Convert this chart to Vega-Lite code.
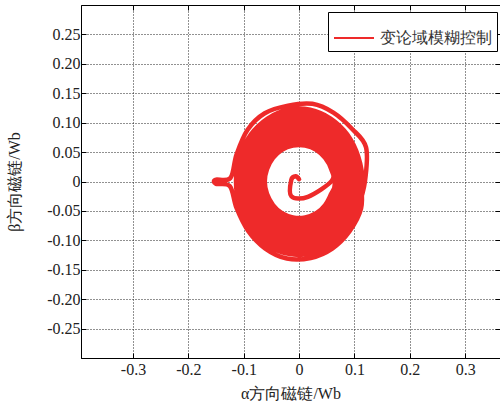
{
"$schema": "https://vega.github.io/schema/vega-lite/v6.json",
"width": 419, "height": 353,
"autosize": {"type": "none"},
"padding": {"left": 81, "top": 5, "right": 0, "bottom": 47},
"background": "white",
"config": {"view": {"stroke": "black", "strokeWidth": 1}, "font": "Liberation Serif"},
"data": {"values": [
{"x":0,"y":0.004},{"x":-0.006,"y":0.009},{"x":-0.014,"y":0.003},{"x":-0.014,"y":-0.025},{"x":0.016,"y":-0.026},{"x":0.059,"y":0.001},
{"x":0.058,"y":0.021},{"x":0.047,"y":0.040},{"x":0.031,"y":0.054},{"x":0.011,"y":0.061},{"x":-0.011,"y":0.061},{"x":-0.031,"y":0.054},{"x":-0.047,"y":0.040},{"x":-0.058,"y":0.021},{"x":-0.062,"y":0},{"x":-0.058,"y":-0.021},{"x":-0.047,"y":-0.040},{"x":-0.031,"y":-0.054},{"x":-0.011,"y":-0.061},{"x":0.011,"y":-0.061},{"x":0.031,"y":-0.054},{"x":0.047,"y":-0.040},{"x":0.058,"y":-0.021},
{"x":0.068,"y":0},{"x":0.064,"y":0.023},{"x":0.052,"y":0.044},{"x":0.034,"y":0.059},{"x":0.012,"y":0.067},{"x":-0.012,"y":0.067},{"x":-0.034,"y":0.059},{"x":-0.052,"y":0.044},{"x":-0.064,"y":0.023},{"x":-0.068,"y":0},{"x":-0.064,"y":-0.023},{"x":-0.052,"y":-0.044},{"x":-0.034,"y":-0.059},{"x":-0.012,"y":-0.067},{"x":0.012,"y":-0.067},{"x":0.034,"y":-0.059},{"x":0.052,"y":-0.044},{"x":0.064,"y":-0.023},
{"x":0.074,"y":0},{"x":0.070,"y":0.026},{"x":0.057,"y":0.048},{"x":0.037,"y":0.065},{"x":0.013,"y":0.074},{"x":-0.013,"y":0.074},{"x":-0.037,"y":0.065},{"x":-0.057,"y":0.048},{"x":-0.070,"y":0.026},{"x":-0.074,"y":0},{"x":-0.070,"y":-0.026},{"x":-0.057,"y":-0.048},{"x":-0.037,"y":-0.065},{"x":-0.013,"y":-0.074},{"x":0.013,"y":-0.074},{"x":0.037,"y":-0.065},{"x":0.057,"y":-0.048},{"x":0.070,"y":-0.026},
{"x":0.080,"y":0},{"x":0.075,"y":0.028},{"x":0.061,"y":0.053},{"x":0.040,"y":0.071},{"x":0.014,"y":0.081},{"x":-0.014,"y":0.081},{"x":-0.040,"y":0.071},{"x":-0.061,"y":0.053},{"x":-0.075,"y":0.028},{"x":-0.080,"y":0},{"x":-0.075,"y":-0.028},{"x":-0.061,"y":-0.053},{"x":-0.040,"y":-0.071},{"x":-0.014,"y":-0.081},{"x":0.014,"y":-0.081},{"x":0.040,"y":-0.071},{"x":0.061,"y":-0.053},{"x":0.075,"y":-0.028},
{"x":0.086,"y":0},{"x":0.081,"y":0.030},{"x":0.066,"y":0.057},{"x":0.043,"y":0.077},{"x":0.015,"y":0.088},{"x":-0.015,"y":0.088},{"x":-0.043,"y":0.077},{"x":-0.066,"y":0.057},{"x":-0.081,"y":0.030},{"x":-0.086,"y":0},{"x":-0.081,"y":-0.030},{"x":-0.066,"y":-0.057},{"x":-0.043,"y":-0.077},{"x":-0.015,"y":-0.088},{"x":0.015,"y":-0.088},{"x":0.043,"y":-0.077},{"x":0.066,"y":-0.057},{"x":0.081,"y":-0.030},
{"x":0.092,"y":0},{"x":0.086,"y":0.033},{"x":0.070,"y":0.062},{"x":0.046,"y":0.083},{"x":0.016,"y":0.095},{"x":-0.016,"y":0.095},{"x":-0.046,"y":0.083},{"x":-0.070,"y":0.062},{"x":-0.086,"y":0.033},{"x":-0.092,"y":0},{"x":-0.086,"y":-0.033},{"x":-0.070,"y":-0.062},{"x":-0.046,"y":-0.083},{"x":-0.016,"y":-0.095},{"x":0.016,"y":-0.095},{"x":0.046,"y":-0.083},{"x":0.070,"y":-0.062},{"x":0.086,"y":-0.033},
{"x":0.098,"y":0},{"x":0.092,"y":0.035},{"x":0.075,"y":0.066},{"x":0.049,"y":0.089},{"x":0.017,"y":0.101},{"x":-0.017,"y":0.101},{"x":-0.049,"y":0.089},{"x":-0.075,"y":0.066},{"x":-0.092,"y":0.035},{"x":-0.098,"y":0},{"x":-0.092,"y":-0.035},{"x":-0.075,"y":-0.066},{"x":-0.049,"y":-0.089},{"x":-0.017,"y":-0.101},{"x":0.017,"y":-0.101},{"x":0.049,"y":-0.089},{"x":0.075,"y":-0.066},{"x":0.092,"y":-0.035},
{"x":0.104,"y":0},{"x":0.098,"y":0.038},{"x":0.080,"y":0.071},{"x":0.052,"y":0.095},{"x":0.018,"y":0.108},{"x":-0.018,"y":0.108},{"x":-0.052,"y":0.095},{"x":-0.080,"y":0.071},{"x":-0.098,"y":0.038},{"x":-0.104,"y":0},{"x":-0.098,"y":-0.038},{"x":-0.080,"y":-0.071},{"x":-0.052,"y":-0.095},{"x":-0.018,"y":-0.108},{"x":0.018,"y":-0.108},{"x":0.052,"y":-0.095},{"x":0.080,"y":-0.071},{"x":0.098,"y":-0.038},
{"x":0.109,"y":0},{"x":0.102,"y":0.040},{"x":0.083,"y":0.075},{"x":0.055,"y":0.101},{"x":0.019,"y":0.115},{"x":-0.019,"y":0.115},{"x":-0.055,"y":0.101},{"x":-0.083,"y":0.075},{"x":-0.102,"y":0.040},{"x":-0.109,"y":0},{"x":-0.102,"y":-0.040},{"x":-0.083,"y":-0.075},{"x":-0.055,"y":-0.101},{"x":-0.019,"y":-0.115},{"x":0.019,"y":-0.115},{"x":0.055,"y":-0.101},{"x":0.083,"y":-0.075},{"x":0.102,"y":-0.040},
{"x":0.114,"y":0},{"x":0.107,"y":0.042},{"x":0.087,"y":0.080},{"x":0.057,"y":0.107},{"x":0.020,"y":0.122},{"x":-0.020,"y":0.122},{"x":-0.057,"y":0.107},{"x":-0.087,"y":0.080},{"x":-0.107,"y":0.042},{"x":-0.114,"y":0},{"x":-0.107,"y":-0.042},{"x":-0.087,"y":-0.080},{"x":-0.057,"y":-0.107},{"x":-0.020,"y":-0.122},{"x":0.020,"y":-0.122},{"x":0.057,"y":-0.107},{"x":0.087,"y":-0.080},{"x":0.107,"y":-0.042},
{"x":0.119,"y":0},{"x":0.121,"y":0.058},{"x":0.095,"y":0.090},{"x":0.062,"y":0.117},{"x":0.024,"y":0.132},{"x":-0.020,"y":0.129},{"x":-0.062,"y":0.116},{"x":-0.093,"y":0.088},{"x":-0.113,"y":0.046},{"x":-0.124,"y":0.006},{"x":-0.151,"y":0.003},{"x":-0.150,"y":-0.004},{"x":-0.125,"y":-0.008},{"x":-0.113,"y":-0.045},{"x":-0.092,"y":-0.084},{"x":-0.061,"y":-0.114},{"x":-0.022,"y":-0.131},{"x":0.021,"y":-0.130},{"x":0.060,"y":-0.114},{"x":0.091,"y":-0.085},{"x":0.112,"y":-0.046},
{"x":0.112,"y":-0.004},{"x":0.105,"y":0.037},{"x":0.086,"y":0.074},{"x":0.056,"y":0.101},{"x":0.019,"y":0.115},{"x":-0.019,"y":0.115},{"x":-0.056,"y":0.101},{"x":-0.086,"y":0.074},{"x":-0.105,"y":0.037},{"x":-0.112,"y":-0.004},{"x":-0.105,"y":-0.045},{"x":-0.086,"y":-0.082},{"x":-0.056,"y":-0.109},{"x":-0.019,"y":-0.123},{"x":0.019,"y":-0.123},{"x":0.056,"y":-0.109},{"x":0.086,"y":-0.082},{"x":0.105,"y":-0.045},
{"x":0.098,"y":0.003},{"x":0.092,"y":0.039},{"x":0.074,"y":0.071},{"x":0.048,"y":0.095},{"x":0.015,"y":0.107},{"x":-0.021,"y":0.107},{"x":-0.054,"y":0.095},{"x":-0.080,"y":0.071},{"x":-0.098,"y":0.039},{"x":-0.104,"y":0.003},{"x":-0.098,"y":-0.033},{"x":-0.080,"y":-0.065},{"x":-0.054,"y":-0.089},{"x":-0.021,"y":-0.101},{"x":0.015,"y":-0.101},{"x":0.048,"y":-0.089},{"x":0.074,"y":-0.065},{"x":0.092,"y":-0.033},
{"x":0.089,"y":0},{"x":0.084,"y":0.031},{"x":0.068,"y":0.059},{"x":0.045,"y":0.080},{"x":0.015,"y":0.091},{"x":-0.015,"y":0.091},{"x":-0.045,"y":0.080},{"x":-0.068,"y":0.059},{"x":-0.084,"y":0.031},{"x":-0.089,"y":0},{"x":-0.084,"y":-0.031},{"x":-0.068,"y":-0.059},{"x":-0.045,"y":-0.080},{"x":-0.015,"y":-0.091},{"x":0.015,"y":-0.091},{"x":0.045,"y":-0.080},{"x":0.068,"y":-0.059},{"x":0.084,"y":-0.031},
{"x":0.077,"y":0},{"x":0.072,"y":0.027},{"x":0.059,"y":0.051},{"x":0.039,"y":0.068},{"x":0.013,"y":0.078},{"x":-0.013,"y":0.078},{"x":-0.039,"y":0.068},{"x":-0.059,"y":0.051},{"x":-0.072,"y":0.027},{"x":-0.077,"y":0},{"x":-0.072,"y":-0.027},{"x":-0.059,"y":-0.051},{"x":-0.039,"y":-0.068},{"x":-0.013,"y":-0.078},{"x":0.013,"y":-0.078},{"x":0.039,"y":-0.068},{"x":0.059,"y":-0.051},{"x":0.072,"y":-0.027},
{"x":0.065,"y":0},{"x":0.061,"y":0.022},{"x":0.050,"y":0.042},{"x":0.033,"y":0.056},{"x":0.011,"y":0.064},{"x":-0.011,"y":0.064},{"x":-0.033,"y":0.056},{"x":-0.050,"y":0.042},{"x":-0.061,"y":0.022},{"x":-0.065,"y":0},{"x":-0.061,"y":-0.022},{"x":-0.050,"y":-0.042},{"x":-0.033,"y":-0.056},{"x":-0.011,"y":-0.064},{"x":0.011,"y":-0.064},{"x":0.033,"y":-0.056},{"x":0.050,"y":-0.042},{"x":0.061,"y":-0.022},{"x":0.065,"y":0}
]},
"layer": [
{"mark": {"type": "line", "strokeWidth": 4.5, "interpolate": "cardinal", "strokeCap": "round", "strokeJoin": "round"},
 "encoding": {
  "x": {"field": "x", "type": "quantitative", "scale": {"domain": [-0.394, 0.363], "nice": false, "zero": false},
   "axis": {"title": "α方向磁链/Wb", "values": [-0.3,-0.2,-0.1,0,0.1,0.2,0.3],
    "labelExpr": "datum.value == 0 ? '0' : (datum.value < 0 ? '-' : '') + format(abs(datum.value), '.1f')",
    "grid": true, "gridDash": [1,2], "gridColor": "#222", "gridOpacity": 1, "gridWidth": 1,
    "domainColor": "black", "domainWidth": 1, "tickColor": "black", "tickSize": -5,
    "labelFont": "Liberation Serif", "labelFontSize": 16, "labelColor": "#222", "labelPadding": 8,
    "titleFont": "Liberation Serif", "titleFontSize": 16, "titleFontWeight": "normal", "titleColor": "#222", "titlePadding": 8}},
  "y": {"field": "y", "type": "quantitative", "scale": {"domain": [-0.3, 0.3], "nice": false, "zero": false},
   "axis": {"title": "β方向磁链/Wb", "values": [-0.25,-0.2,-0.15,-0.1,-0.05,0,0.05,0.1,0.15,0.2,0.25],
    "labelExpr": "datum.value == 0 ? '0' : (datum.value < 0 ? '-' : '') + format(abs(datum.value), '.2f')",
    "grid": true, "gridDash": [1,2], "gridColor": "#222", "gridOpacity": 1, "gridWidth": 1,
    "domainColor": "black", "domainWidth": 1, "tickColor": "black", "tickSize": -5,
    "labelFont": "Liberation Serif", "labelFontSize": 16, "labelColor": "#222", "labelPadding": 6,
    "titleFont": "Liberation Serif", "titleFontSize": 16, "titleFontWeight": "normal", "titleColor": "#222", "titlePadding": 24}},
  "color": {"datum": "变论域模糊控制", "type": "nominal", "scale": {"range": ["#ee2a2a"]},
   "legend": {"orient": "none", "legendX": 247, "legendY": 7, "title": null, "symbolType": "stroke", "symbolSize": 1600, "symbolStrokeWidth": 2,
    "strokeColor": "black", "fillColor": "white", "padding": 5, "labelFont": "Liberation Serif", "labelFontSize": 16, "labelColor": "#333", "labelOffset": 5}},
  "order": {"value": null}
 }},
{"mark": {"type": "line", "opacity": 0},
 "encoding": {
  "x": {"field": "x", "type": "quantitative", "axis": {"orient": "top", "title": null, "values": [-0.3,-0.2,-0.1,0,0.1,0.2,0.3], "labels": false, "grid": false, "domain": false, "tickColor": "black", "tickSize": -5}},
  "y": {"field": "y", "type": "quantitative", "axis": {"orient": "right", "title": null, "values": [-0.25,-0.2,-0.15,-0.1,-0.05,0,0.05,0.1,0.15,0.2,0.25], "labels": false, "grid": false, "domain": false, "tickColor": "black", "tickSize": -5}},
  "order": {"value": null}
 }}
],
"resolve": {"axis": {"x": "independent", "y": "independent"}}
}
